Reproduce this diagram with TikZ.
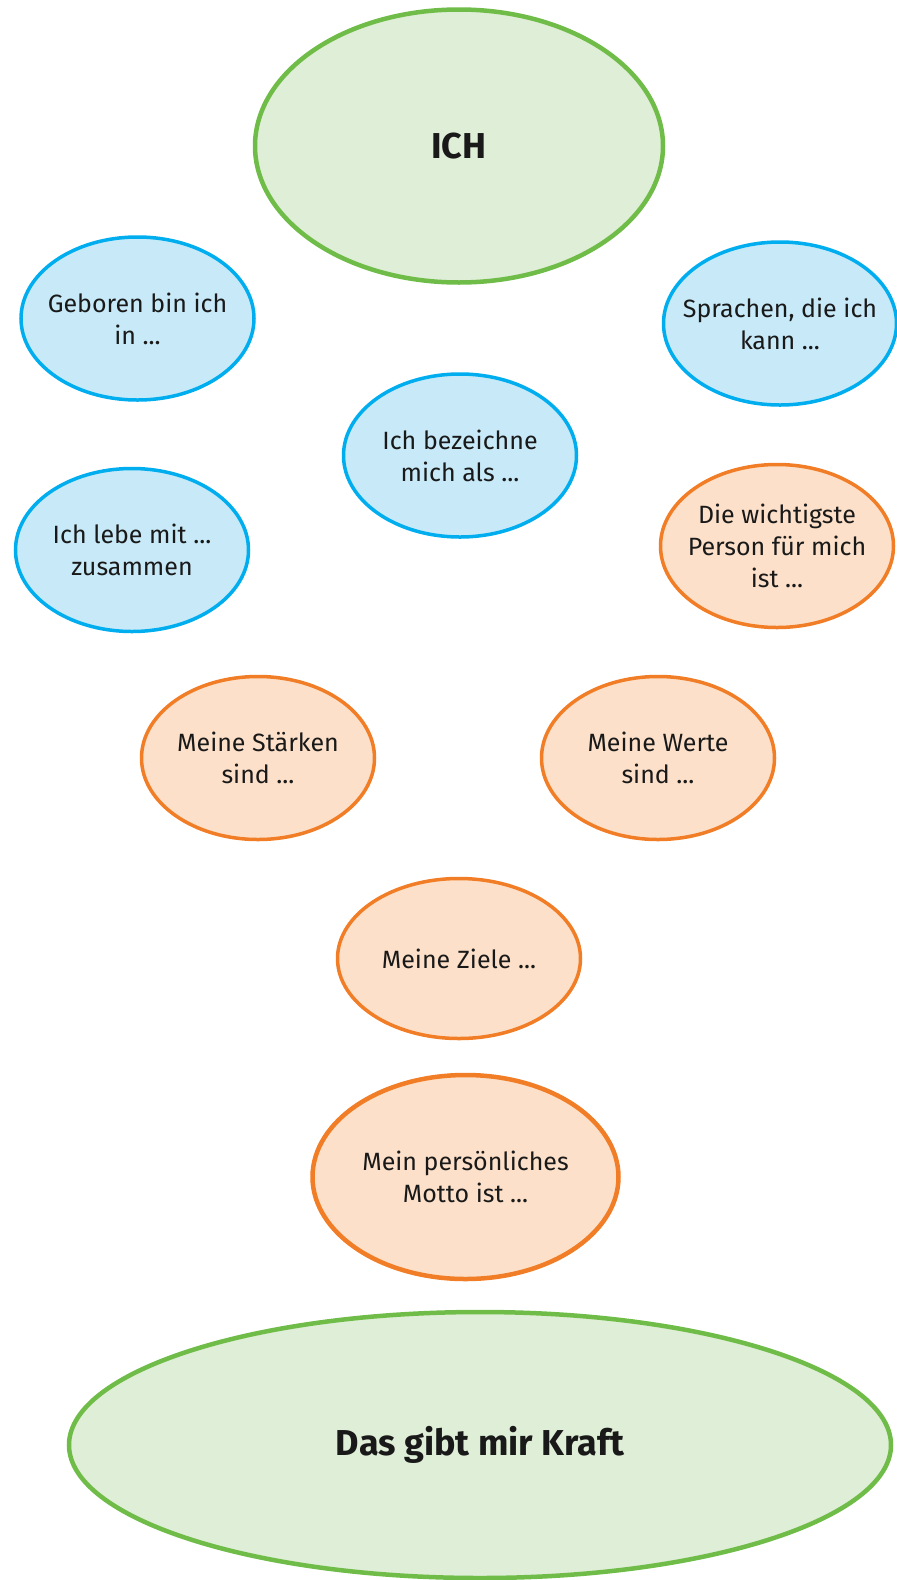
\documentclass[tikz,border=0pt]{standalone}
\usepackage{fontspec}
\setmainfont{Fira Sans}
\usepackage{xcolor}
\usepackage{tikz}
\usetikzlibrary{shapes.geometric}

\definecolor{ichgreen}{RGB}{111,189,72}
\definecolor{ichgreenfill}{RGB}{223,238,214}
\definecolor{ichblue}{RGB}{0,174,239}
\definecolor{ichbluefill}{RGB}{199,233,248}
\definecolor{ichorange}{RGB}{241,125,38}
\definecolor{ichorangefill}{RGB}{252,224,201}

\begin{document}
\begin{tikzpicture}[x=1pt,y=1pt,yscale=-1,xscale=1,
  bubble/.style={ellipse,inner xsep=-30pt,inner ysep=-10pt,align=center,line width=3.5,
    minimum width=233,minimum height=163,
    font=\fontsize{25}{32}\selectfont,text=black!90},
  bluebubble/.style={bubble,draw=ichblue,fill=ichbluefill},
  orangebubble/.style={bubble,draw=ichorange,fill=ichorangefill},
  bigbubble/.style={ellipse,inner sep=0pt,line width=4.5,draw=ichgreen,
    fill=ichgreenfill,font=\fontsize{36}{40}\selectfont\bfseries,text=black!90}]
\useasboundingbox (0,0) rectangle (897,1580);
%Shape: Ellipse [ICH]
\node[bigbubble,minimum width=408,minimum height=273] (ich) at (459,146) {ICH};
%Shape: Ellipse [blue]
\node[bluebubble] (geboren) at (137.5,318.5) {Geboren bin ich\\in ...};
\node[bluebubble] (sprachen) at (780,323.5) {Sprachen, die ich\\kann ...};
\node[bluebubble] (bezeichne) at (460,455.5) {Ich bezeichne\\mich als ...};
\node[bluebubble] (lebe) at (132,550) {Ich lebe mit ...\\zusammen};
%Shape: Ellipse [orange]
\node[orangebubble] (person) at (777,546) {Die wichtigste\\Person für mich\\ist ...};
\node[orangebubble] (staerken) at (258,758) {Meine Stärken\\sind ...};
\node[orangebubble] (werte) at (658,758) {Meine Werte\\sind ...};
\node[orangebubble,minimum width=243,minimum height=160] (ziele) at (459,958.5) {Meine Ziele ...};
\node[orangebubble,line width=4.5,minimum width=306,minimum height=204] (motto) at (465.5,1177) {Mein persönliches\\Motto ist ...};
%Shape: Ellipse [Kraft]
\node[bigbubble,minimum width=822,minimum height=266] (kraft) at (480,1445) {Das gibt mir Kraft};
\end{tikzpicture}
\end{document}
